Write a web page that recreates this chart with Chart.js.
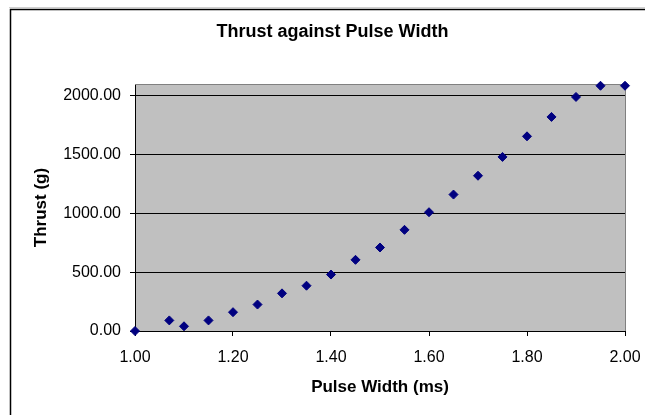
<!DOCTYPE html>
<html>
<head>
<meta charset="utf-8">
<script src="https://cdn.jsdelivr.net/npm/chart.js@4"></script>
<style>
  html, body { margin: 0; padding: 0; background: #fff; }
  #wrap { width: 645px; height: 415px; }
</style>
</head>
<body>
<div id="wrap"><canvas id="c" width="645" height="415"></canvas></div>
<script>
const pulseWidth = [1.00, 1.07, 1.10, 1.15, 1.20, 1.25, 1.30, 1.35, 1.40, 1.45, 1.50, 1.55, 1.60, 1.65, 1.70, 1.75, 1.80, 1.85, 1.90, 1.95, 2.00];
const thrust = [0, 90, 40, 90, 160, 225, 320, 385, 480, 605, 710, 860, 1010, 1160, 1320, 1480, 1655, 1820, 1990, 2085, 2085];
const yTicks = [0, 500, 1000, 1500, 2000];
const xTicks = [1.0, 1.2, 1.4, 1.6, 1.8, 2.0];

const points = pulseWidth.map((x, i) => ({ x: x, y: thrust[i] }));
const FONT = 'Liberation Sans, Arial, sans-serif';

const frame = {
  id: 'frame',
  afterLayout(chart) {
    if (chart.titleBlock) {
      chart.titleBlock.left = 20;
      chart.titleBlock.right = 645;
    }
  },
  beforeDraw(chart) {
    const ctx = chart.ctx;
    ctx.save();
    ctx.fillStyle = '#ffffff';
    ctx.fillRect(0, 0, chart.width, chart.height);
    ctx.strokeStyle = '#d0d0d0';
    ctx.lineWidth = 1;
    ctx.beginPath();
    ctx.moveTo(9, 7.5); ctx.lineTo(chart.width, 7.5);
    ctx.stroke();
    ctx.strokeStyle = '#000000';
    ctx.lineWidth = 1.5;
    ctx.strokeRect(10.5, 9.5, chart.width + 20, chart.height + 20);
    const a = chart.chartArea;
    ctx.fillStyle = '#c0c0c0';
    ctx.fillRect(a.left, a.top, a.right - a.left, a.bottom - a.top);
    ctx.restore();
  },
  beforeDatasetsDraw(chart) {
    const ctx = chart.ctx;
    const a = chart.chartArea;
    ctx.save();
    ctx.strokeStyle = '#808080';
    ctx.lineWidth = 1;
    ctx.beginPath();
    ctx.moveTo(a.left, a.top + 0.5);
    ctx.lineTo(a.right + 0.5, a.top + 0.5);
    ctx.lineTo(a.right + 0.5, a.bottom);
    ctx.stroke();
    ctx.restore();
  }
};

new Chart(document.getElementById('c'), {
  type: 'scatter',
  data: {
    datasets: [{
      data: points,
      pointStyle: 'rectRot',
      pointRadius: 4.5,
      pointHoverRadius: 4.5,
      backgroundColor: '#000080',
      borderColor: '#000080',
      borderWidth: 1,
      clip: false
    }]
  },
  options: {
    responsive: false,
    animation: false,
    events: [],
    layout: { padding: { left: 10, right: 20, top: 0, bottom: 0 } },
    plugins: {
      legend: { display: false },
      tooltip: { enabled: false },
      title: {
        display: true,
        text: 'Thrust against Pulse Width',
        color: '#000',
        font: { family: FONT, size: 18, weight: 'bold' },
        padding: { top: 21, bottom: 41.4 }
      }
    },
    scales: {
      x: {
        type: 'linear',
        min: 1,
        max: 2,
        afterFit(s) { s.height = 84; s.paddingLeft = 0; s.paddingRight = 0; },
        afterBuildTicks(s) { s.ticks = xTicks.map(v => ({ value: v })); },
        grid: { drawOnChartArea: false, drawTicks: true, tickLength: 5, color: '#000', lineWidth: 1 },
        border: { display: true, color: '#000', width: 1 },
        ticks: {
          color: '#000',
          padding: 12,
          maxRotation: 0,
          font: { family: FONT, size: 16 },
          callback: v => Number(v).toFixed(2)
        },
        title: {
          display: true,
          text: 'Pulse Width (ms)',
          color: '#000',
          font: { family: FONT, size: 17, weight: 'bold' },
          padding: { top: 0, bottom: 17 }
        }
      },
      y: {
        type: 'linear',
        min: 0,
        max: 2100,
        afterFit(s) { s.width = 125; s.paddingTop = 0; s.paddingBottom = 0; },
        afterBuildTicks(s) { s.ticks = yTicks.map(v => ({ value: v })); },
        grid: { drawOnChartArea: true, drawTicks: true, tickLength: 5, color: '#000', lineWidth: 1 },
        border: { display: true, color: '#000', width: 1 },
        ticks: {
          color: '#000',
          padding: 9,
          font: { family: FONT, size: 16 },
          callback: v => Number(v).toFixed(2)
        },
        title: {
          display: true,
          text: 'Thrust (g)',
          color: '#000',
          font: { family: FONT, size: 17, weight: 'bold' },
          padding: { top: 21, bottom: 0 }
        }
      }
    }
  },
  plugins: [frame]
});
</script>
</body>
</html>
